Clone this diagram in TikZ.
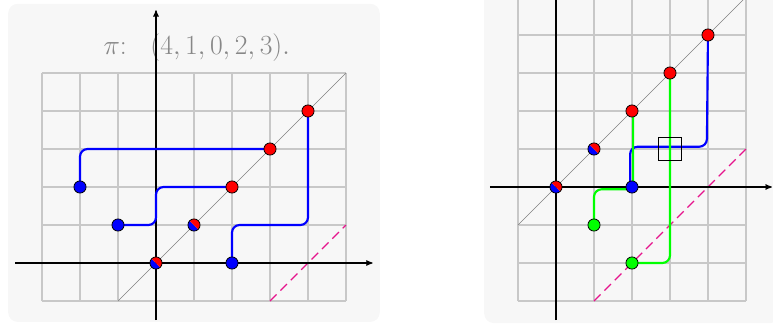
\documentclass[tikz,border=0pt]{standalone}
\usepackage{tikz}
\usetikzlibrary{arrows}
\usepackage{xcolor}
\definecolor{fxfxfx}{rgb}{0.969,0.969,0.969}
\definecolor{cycycy}{rgb}{0.784,0.784,0.784}
\definecolor{yxyxyx}{rgb}{0.53,0.53,0.53}
\definecolor{ewruyc}{rgb}{0.902,0.078,0.549}
\definecolor{qqffqq}{rgb}{0,1,0}
\begin{document}
\begin{tikzpicture}[pt/.style={circle, draw, line width=0.6pt, minimum size=0.32cm, inner sep=0pt, outer sep=0pt, fill=#1},
spt/.style={circle, draw, line width=0.6pt, minimum size=0.32cm, inner sep=0pt, outer sep=0pt, path picture={
  \fill[blue] (path picture bounding box.north west) -- (path picture bounding box.south east) -- (path picture bounding box.south west) -- cycle;
  \fill[red] (path picture bounding box.north west) -- (path picture bounding box.north east) -- (path picture bounding box.south east) -- cycle;}},
bpath/.style={line width=1.6pt, color=blue, rounded corners=0.2cm},
gpath/.style={line width=1.6pt, color=qqffqq, rounded corners=0.2cm},
x=1cm,y=1cm,>=stealth',scale=1]
\clip(-4.105,-1.632) rectangle (16.237,6.921);
\fill [fxfxfx, rounded corners=0.25cm] (-3.89,-1.55) rectangle (5.89,6.82);
\draw [line width=0.8pt, color=cycycy] (-3,-1) grid (5,5);
\draw [line width=0.5pt, color=gray] (-1,-1)-- (5,5);
\draw [line width=0.8pt, color=ewruyc, dash pattern=on 7pt off 4pt] (3,-1)-- (5,1);
\node [text=yxyxyx, font=\fontsize{21.7}{26}\selectfont] (title) at (1.07,5.68) {$\pi\colon\enspace\,(4,1,0,2,3).$};
\draw [->, line width=0.8pt] (-3.7,0)-- (5.7,0);
\draw [->, line width=0.8pt] (0,-1.5)-- (0,6.65);
\coordinate (lb1) at (-2,2);
\coordinate (lb2) at (-1,1);
\coordinate (lb3) at (2,0);
\coordinate (ls0) at (0,0);
\coordinate (ls1) at (1,1);
\coordinate (lr2) at (2,2);
\coordinate (lr3) at (3,3);
\coordinate (lr4) at (4,4);
\draw [bpath] (lb1) |- (lr3);
\draw [bpath] (lb2) -- (0,1) |- (lr2);
\draw [bpath] (lb3) |- (4,1) -- (lr4);
\node [pt=blue] (lB1) at (lb1) {};
\node [pt=blue] (lB2) at (lb2) {};
\node [pt=blue] (lB3) at (lb3) {};
\node [spt] (lS0) at (ls0) {};
\node [spt] (lS1) at (ls1) {};
\node [pt=red] (lR2) at (lr2) {};
\node [pt=red] (lR3) at (lr3) {};
\node [pt=red] (lR4) at (lr4) {};
\begin{scope}[shift={(10.526,2)}]
\fill [fxfxfx, rounded corners=0.25cm] (-1.89,-3.58) rectangle (5.89,5.9);
\draw [line width=0.8pt, color=cycycy] (-1,-3) grid (5,5);
\draw [line width=0.5pt, color=gray] (-1,-1)-- (5,5);
\draw [line width=0.8pt, color=ewruyc, dash pattern=on 7pt off 4pt] (1,-3)-- (5,1);
\draw [->, line width=0.8pt] (-1.74,0)-- (5.68,0);
\draw [->, line width=0.8pt] (0,-3.5)-- (0,5.8);
\coordinate (rb1) at (2,0);
\coordinate (rg1) at (1,-1);
\coordinate (rg2) at (2,-2);
\coordinate (rs0) at (0,0);
\coordinate (rs1) at (1,1);
\coordinate (rr2) at (2,2);
\coordinate (rr3) at (3,3);
\coordinate (rr4) at (4,4);
\draw [bpath] ([xshift=-0.05cm]rb1) |- (3.97,1.06) -- (rr4);
\draw [gpath] (rg1) |- ([shift={(0.03,-0.06)}]rb1) -- ([xshift=0.03cm]rr2);
\draw [gpath] (rg2) -| (rr3);
\node [draw, line width=0.6pt, minimum size=0.6cm, inner sep=0pt] (box) at (3,1) {};
\node [pt=blue] (rB1) at (rb1) {};
\node [pt=qqffqq] (rG1) at (rg1) {};
\node [pt=qqffqq] (rG2) at (rg2) {};
\node [spt] (rS0) at (rs0) {};
\node [spt] (rS1) at (rs1) {};
\node [pt=red] (rR2) at (rr2) {};
\node [pt=red] (rR3) at (rr3) {};
\node [pt=red] (rR4) at (rr4) {};
\end{scope}
\end{tikzpicture}
\end{document}
